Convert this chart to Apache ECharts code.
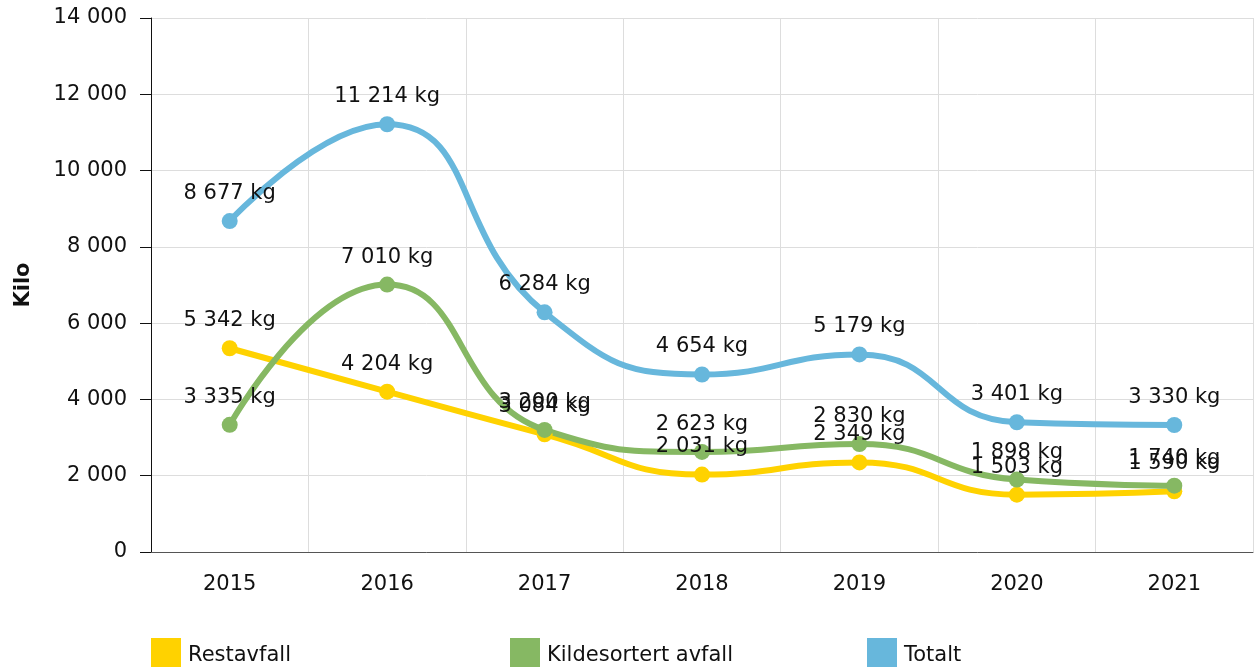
<!DOCTYPE html>
<html>
<head>
<meta charset="utf-8">
<script src="https://cdn.jsdelivr.net/npm/echarts@6/dist/echarts.min.js"></script>
<style>
  html, body { margin: 0; padding: 0; background: #fff; }
  #chart { width: 1255px; height: 667px; }
</style>
</head>
<body>
<div id="chart"></div>
<script>
const years = ['2015', '2016', '2017', '2018', '2019', '2020', '2021'];
const restavfall = [5342, 4204, 3084, 2031, 2349, 1503, 1590];
const kildesortert = [3335, 7010, 3200, 2623, 2830, 1898, 1740];
const totalt = [8677, 11214, 6284, 4654, 5179, 3401, 3330];

const FONT = 'DejaVu Sans';
const FS = 21;

function fmt(v) {
    return String(v).replace(/\B(?=(\d{3})+(?!\d))/g, ' ');
}

function makeSeries(name, data, color) {
    return {
        name: name,
        type: 'line',
        data: data,
        smooth: 0.5,
        symbol: 'circle',
        symbolSize: 16,
        lineStyle: { width: 6, color: color },
        itemStyle: { color: color },
        label: {
            show: true,
            position: 'top',
            distance: 9,
            color: '#111',
            fontFamily: FONT,
            fontSize: FS,
            formatter: p => fmt(p.value) + ' kg'
        },
        emphasis: { disabled: true }
    };
}

// legend squares run off the bottom edge, as in the original
function legendAt(left, name) {
    return {
        left: left,
        top: 638,
        padding: 0,
        itemWidth: 30,
        itemHeight: 36,
        itemGap: 7,
        icon: 'rect',
        data: [name],
        textStyle: { fontFamily: FONT, fontSize: FS, color: '#111', padding: [0, 0, 0, 2] }
    };
}

const chart = echarts.init(document.getElementById('chart'));
chart.setOption({
    animation: false,
    grid: { left: 151, right: 2, top: 18, bottom: 115 },
    legend: [
        legendAt(151, 'Restavfall'),
        legendAt(510, 'Kildesortert avfall'),
        legendAt(867, 'Totalt')
    ],
    xAxis: {
        type: 'category',
        data: years,
        boundaryGap: true,
        axisLine: { lineStyle: { color: '#555', width: 1 } },
        axisTick: { alignWithLabel: true, length: 9, lineStyle: { color: '#555' } },
        axisLabel: { fontFamily: FONT, fontSize: FS, color: '#111', margin: 22 },
        splitLine: { show: true, lineStyle: { color: '#ddd' } }
    },
    yAxis: {
        type: 'value',
        min: 0,
        max: 14000,
        interval: 2000,
        name: 'Kilo',
        nameLocation: 'middle',
        nameGap: 117,
        nameTextStyle: { fontFamily: FONT, fontSize: FS, fontWeight: 'bold', color: '#111' },
        axisLine: { show: true, lineStyle: { color: '#111', width: 1 } },
        axisTick: { show: true, length: 11, lineStyle: { color: '#111' } },
        axisLabel: { fontFamily: FONT, fontSize: FS, color: '#111', margin: 24, formatter: v => fmt(v) },
        splitLine: { lineStyle: { color: '#ddd' } }
    },
    series: [
        makeSeries('Restavfall', restavfall, '#FFD200'),
        makeSeries('Kildesortert avfall', kildesortert, '#86B863'),
        makeSeries('Totalt', totalt, '#67B7DC')
    ]
});
</script>
</body>
</html>
